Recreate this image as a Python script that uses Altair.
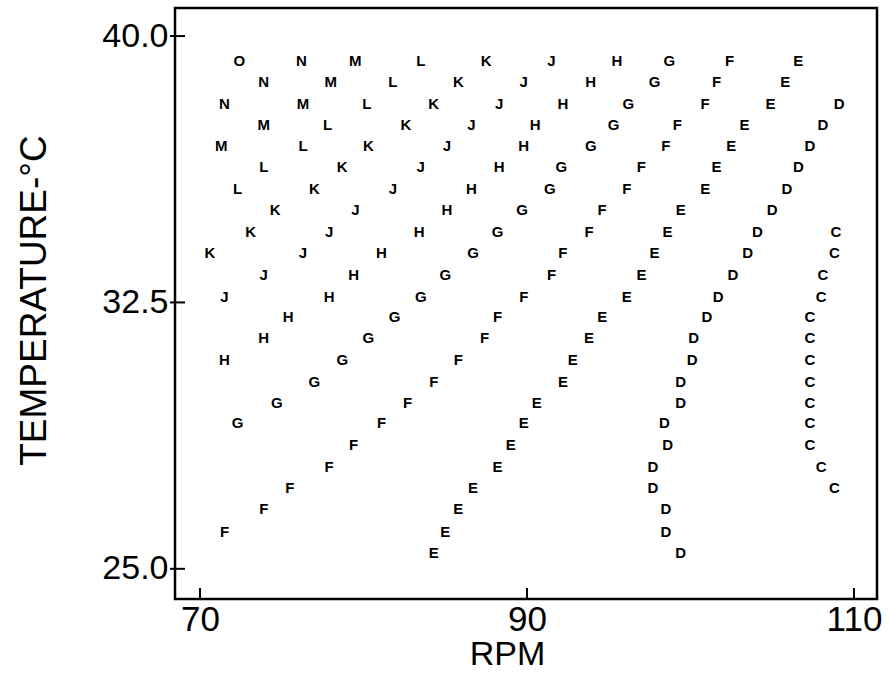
import altair as alt
import pandas as pd

# Row temperatures (deg C), top row first
ROW_TEMPS = [39.30, 38.70, 38.09, 37.49, 36.90, 36.31, 35.69, 35.10, 34.48, 33.89,
             33.27, 32.65, 32.09, 31.50, 30.88, 30.26, 29.66, 29.10, 28.48, 27.86,
             27.27, 26.67, 26.05, 25.44]

# RPM for each letter series, listed from its first (top) row downward
START_ROW = {"O": 0, "N": 0, "M": 0, "L": 0, "K": 0, "J": 0, "H": 0, "G": 0,
             "F": 0, "E": 0, "D": 2, "C": 8}

rpm_O = [72.4]
rpm_N = [76.2, 73.9, 71.5]
rpm_M = [79.5, 78.0, 76.3, 73.9, 71.3]
rpm_L = [83.5, 81.8, 80.2, 77.8, 76.3, 73.9, 72.3]
rpm_K = [87.5, 85.8, 84.3, 82.6, 80.3, 78.7, 77.0, 74.6, 73.1, 70.6]
rpm_J = [91.5, 89.8, 88.3, 86.6, 85.1, 83.5, 81.8, 79.5, 77.9, 76.3, 73.9, 71.5]
rpm_H = [95.5, 93.9, 92.2, 90.5, 89.8, 88.3, 86.6, 85.1, 83.4, 81.1, 79.4, 77.9,
         75.4, 73.9, 71.5]
rpm_G = [98.7, 97.8, 96.2, 95.3, 93.9, 92.1, 91.4, 89.7, 88.2, 86.7, 85.0, 83.5,
         81.9, 80.3, 78.7, 77.0, 74.7, 72.3]
rpm_F = [102.4, 101.6, 100.9, 99.2, 98.5, 97.0, 96.1, 94.6, 93.8, 92.2, 91.5, 89.8,
         88.2, 87.4, 85.8, 84.3, 82.7, 81.1, 79.4, 77.9, 75.5, 73.9, 71.5]
rpm_E = [106.6, 105.8, 104.9, 103.3, 102.5, 101.6, 100.9, 99.4, 98.6, 97.8, 97.0, 96.1,
         94.6, 93.8, 92.8, 92.2, 90.6, 89.8, 89.0, 88.2, 86.7, 85.8, 85.0, 84.3]
rpm_D = [109.1, 108.1, 107.3, 106.6, 105.9, 105.0, 104.1, 103.5, 102.6, 101.7, 101.0,
         100.2, 100.1, 99.4, 99.4, 98.4, 98.6, 97.7, 97.7, 98.5, 98.5, 99.4]
rpm_C = [108.9, 108.8, 108.1, 108.0, 107.3, 107.3, 107.3, 107.3, 107.3, 107.3, 107.3,
         108.0, 108.8]

X_TICKS = [70, 90, 110]
Y_TICKS = [25.0, 32.5, 40.0]

SERIES = {"O": rpm_O, "N": rpm_N, "M": rpm_M, "L": rpm_L, "K": rpm_K, "J": rpm_J,
          "H": rpm_H, "G": rpm_G, "F": rpm_F, "E": rpm_E, "D": rpm_D, "C": rpm_C}

rows = []
for letter, vals in SERIES.items():
    s = START_ROW[letter]
    for i, v in enumerate(vals):
        rows.append({"letter": letter, "rpm": v, "temp": ROW_TEMPS[s + i]})
df = pd.DataFrame(rows)

W, H = 702, 591
xs = alt.Scale(domain=[68.47, 111.41], nice=False, zero=False)
ys = alt.Scale(domain=[24.15, 40.79], nice=False, zero=False)

FONT = "Liberation Sans"

x_axis = alt.Axis(values=X_TICKS, ticks=False, domain=False, grid=False,
                  labelFont=FONT, labelFontSize=35, labelColor="black",
                  labelPadding=3, labelFlush=False, format="d",
                  titleFont=FONT, titleFontSize=34, titleFontWeight="normal",
                  titleColor="black", titleX=332, titleY=65,
                  titleBaseline="alphabetic", titleAlign="center")
y_axis = alt.Axis(values=Y_TICKS, ticks=False, domain=False, grid=False,
                  labelFont=FONT, labelFontSize=34, labelColor="black",
                  labelPadding=7, labelFlush=False, format=".1f",
                  titleFont=FONT, titleFontSize=37, titleFontWeight="normal",
                  titleColor="black", titleX=-130, titleY=292, titleAngle=270,
                  titleBaseline="alphabetic", titleAlign="center")

x_enc = alt.X("rpm:Q", scale=xs, axis=x_axis, title="RPM")
y_enc = alt.Y("temp:Q", scale=ys, axis=y_axis, title="TEMPERATURE-°C")

letters = alt.Chart(df).mark_text(
    font=FONT, fontSize=15, fontWeight="bold", color="black",
    align="center", baseline="middle"
).encode(x=x_enc, y=y_enc, text="letter:N")

xt = alt.Chart(pd.DataFrame({"rpm": X_TICKS})).mark_rule(
    color="black", strokeWidth=2
).encode(x=x_enc, y=alt.value(H), y2=alt.value(H - 11))

yt = alt.Chart(pd.DataFrame({"temp": Y_TICKS})).mark_rule(
    color="black", strokeWidth=2
).encode(y=y_enc, x=alt.value(-5), x2=alt.value(10))

chart = alt.layer(letters, xt, yt).properties(
    width=W, height=H,
    autosize=alt.AutoSizeParams(type="none"),
    padding={"left": 175, "top": 8, "right": 13, "bottom": 90},
    background="white"
).configure_view(stroke="black", strokeWidth=2.5)

chart.save("out.html", embed_options={"renderer": "svg", "actions": False})
